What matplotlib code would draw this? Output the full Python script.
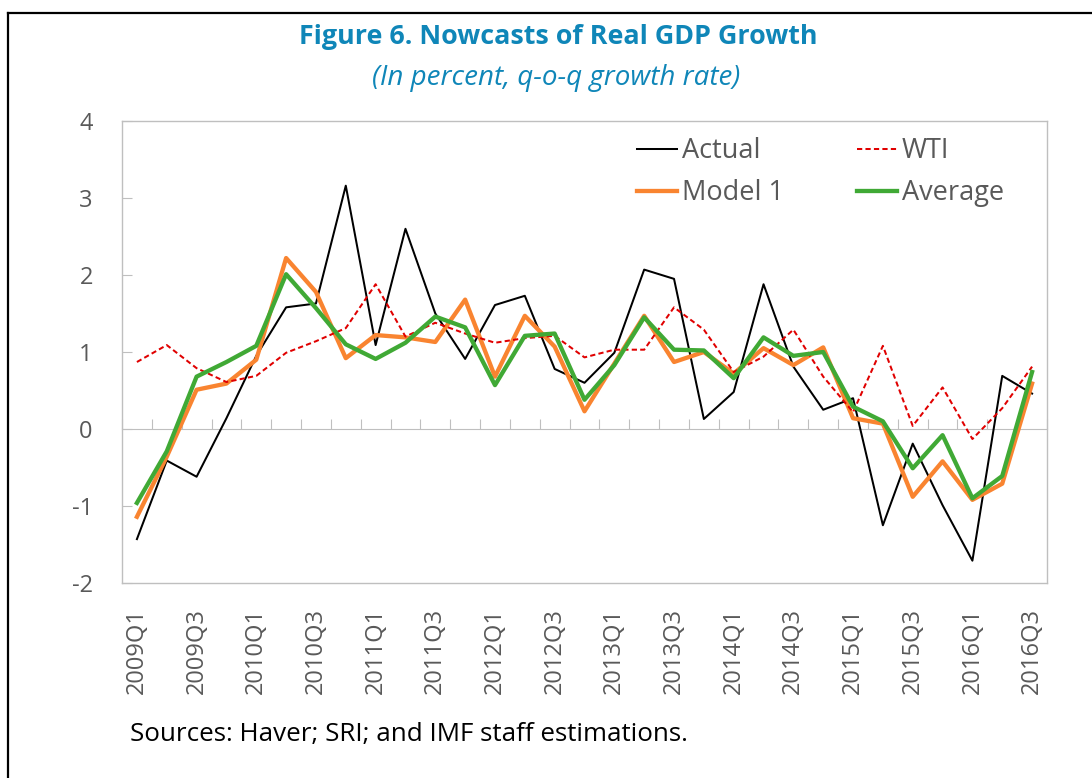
import matplotlib
matplotlib.use("Agg")
import matplotlib.pyplot as plt
from matplotlib.lines import Line2D
import numpy as np

# quarters 2009Q1 .. 2016Q3
quarters = [f"{y}Q{q}" for y in range(2009, 2017) for q in range(1, 5)][:31]

actual = [-1.43, -0.41, -0.62, 0.14, 0.95, 1.58, 1.63, 3.16, 1.09, 2.60,
          1.50, 0.91, 1.61, 1.73, 0.78, 0.60, 0.99, 2.07, 1.95, 0.13,
          0.48, 1.88, 0.81, 0.25, 0.40, -1.25, -0.19, -0.99, -1.71, 0.69,
          0.46]
wti = [0.87, 1.09, 0.79, 0.61, 0.69, 0.99, 1.14, 1.31, 1.88, 1.20,
       1.38, 1.24, 1.12, 1.18, 1.21, 0.93, 1.03, 1.03, 1.58, 1.29,
       0.74, 0.94, 1.29, 0.68, 0.22, 1.08, 0.04, 0.54, -0.13, 0.27,
       0.81]
model1 = [-1.14, -0.36, 0.51, 0.59, 0.90, 2.22, 1.78, 0.92, 1.22, 1.19,
          1.13, 1.68, 0.68, 1.47, 1.07, 0.23, 0.85, 1.47, 0.87, 1.00,
          0.72, 1.05, 0.83, 1.06, 0.14, 0.07, -0.88, -0.42, -0.92, -0.71,
          0.59]
average = [-0.96, -0.29, 0.68, 0.87, 1.08, 2.01, 1.57, 1.10, 0.91, 1.12,
           1.46, 1.32, 0.57, 1.21, 1.24, 0.38, 0.83, 1.45, 1.03, 1.02,
           0.66, 1.19, 0.95, 1.00, 0.29, 0.10, -0.51, -0.08, -0.90, -0.61,
           0.74]

plt.rcParams['font.family'] = ['Open Sans', 'DejaVu Sans']
plt.rcParams['axes.unicode_minus'] = False

W, H = 1092, 778
fig = plt.figure(figsize=(W / 100, H / 100), dpi=100)
ax = fig.add_axes([122 / W, 1 - 583 / H, (1047 - 122) / W, (583 - 121) / H])

x = np.arange(len(quarters))
grey = '#BFBFBF'
txt = '#595959'

l_act, = ax.plot(x, actual, color='black', lw=1.45, zorder=3)
l_m1, = ax.plot(x, model1, color='#F98430', lw=3.1, zorder=4)
l_wti, = ax.plot(x, wti, color='#E00000', lw=1.45, dashes=(2.6, 1.6), zorder=5)
l_avg, = ax.plot(x, average, color='#40A935', lw=3.1, zorder=6)

ax.set_xlim(-0.5, len(quarters) - 0.5)
ax.set_ylim(-2, 4)
ax.set_yticks(range(-2, 5))
ax.tick_params(axis='y', direction='in', length=7, color=grey, labelsize=17,
               labelcolor=txt, pad=21)
ax.set_xticks(x[::2])
ax.set_xticklabels(quarters[::2], rotation=90)
ax.tick_params(axis='x', length=0, labelsize=17, labelcolor=txt, pad=18)
for s in ax.spines.values():
    s.set_color(grey)
    s.set_linewidth(1)

# zero line with category boundary ticks
sec = ax.secondary_xaxis((0 - (-2)) / (4 - (-2)))
sec.set_xticks(np.arange(-0.5, len(quarters)))
sec.tick_params(axis='x', direction='in', length=7, color=grey, labelbottom=False)
sec.spines['bottom'].set_color(grey)

leg = ax.legend([l_act, l_m1, l_wti, l_avg], ['Actual', 'Model 1', 'WTI', 'Average'],
                ncol=2, frameon=False, fontsize=19.5, labelcolor=txt,
                handlelength=1.48, handletextpad=0.18, columnspacing=2.7,
                labelspacing=0.53, borderpad=0, borderaxespad=0,
                loc='upper left', bbox_to_anchor=(637 / W, 1 - 137 / H),
                bbox_transform=fig.transFigure)

title_c = '#0F86B8'
fig.text(558 / W, 1 - 37 / H, 'Figure 6. Nowcasts of Real GDP Growth', ha='center', va='center',
         fontsize=19.4, fontweight='bold', color=title_c)
fig.text(556 / W, 1 - 78 / H, '(In percent, q-o-q growth rate)', ha='center', va='center',
         fontsize=20, style='italic', color=title_c)
fig.text(130 / W, 1 - 735 / H, 'Sources: Haver; SRI; and IMF staff estimations.',
         ha='left', va='center', fontsize=18.7, color='black')

# outer frame (left and top only)
fig.add_artist(Line2D([8 / W, 8 / W], [0, 1 - 13 / H], color='black', lw=1.6,
                      transform=fig.transFigure))
fig.add_artist(Line2D([8 / W, 1], [1 - 13 / H, 1 - 13 / H], color='black', lw=1.6,
                      transform=fig.transFigure))

fig.savefig('out.png', dpi=100)
